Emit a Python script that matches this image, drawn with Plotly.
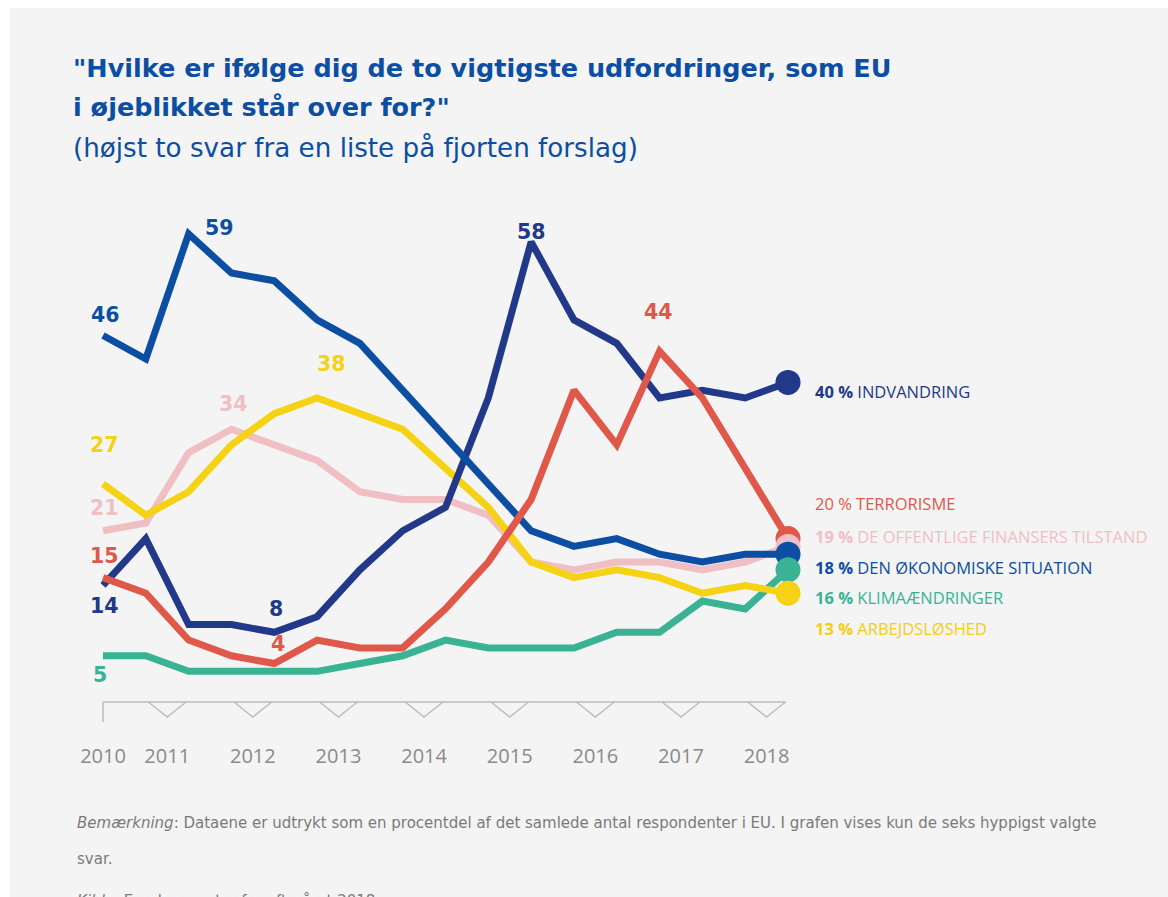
import plotly.graph_objects as go

# ---------------- data ----------------
years = ["2010", "2011", "2012", "2013", "2014", "2015", "2016", "2017", "2018"]
year_ticks = [0, 1.5, 3.5, 5.5, 7.5, 9.5, 11.5, 13.5, 15.5]
waves = list(range(17))  # survey waves (spring / autumn), 2010 -> autumn 2018

indvandring = [14, 20, 9, 9, 8, 10, 16, 21, 24, 38, 58, 48, 45, 38, 39, 38, 40]
terrorisme = [15, 13, 7, 5, 4, 7, 6, 6, 11, 17, 25, 39, 32, 44, 38, 29, 20]
offentlige = [21, 22, 31, 34, 32, 30, 26, 25, 25, 23, 17, 16, 17, 17, 16, 17, 19]
oekonomi = [46, 43, 59, 54, 53, 48, 45, 39, 33, 27, 21, 19, 20, 18, 17, 18, 18]
klima = [5, 5, 3, 3, 3, 3, 4, 5, 7, 6, 6, 6, 8, 8, 12, 11, 16]
arbejdsloeshed = [27, 23, 26, 32, 36, 38, 36, 34, 29, 24, 17, 15, 16, 15, 13, 14, 13]

end_labels = [
    ("<b>40 %</b> INDVANDRING", "#22398a", 391),
    ("20 % TERRORISME", "#e0584a", 504),
    ("<b>19 %</b> DE OFFENTLIGE FINANSERS TILSTAND", "#f0bfc4", 536),
    ("<b>18 %</b> DEN ØKONOMISKE SITUATION", "#0b4ea2", 567),
    ("<b>16 %</b> KLIMAÆNDRINGER", "#3ab394", 597),
    ("<b>13 %</b> ARBEJDSLØSHED", "#f2cf12", 628),
]

W, H = 1168, 897
FONT = "Open Sans"
WIDE = "DejaVu Sans"
NAVY = "#22398a"
BLUE = "#0b4ea2"
RED = "#e0584a"
PINK = "#f0bfc4"
YELLOW = "#f5d214"
GREEN = "#3ab394"
GRAY = "#8a8a8a"

series = {
    "offentlige": (offentlige, PINK),
    "klima": (klima, GREEN),
    "arbejdsloeshed": (arbejdsloeshed, YELLOW),
    "indvandring": (indvandring, NAVY),
    "oekonomi": (oekonomi, BLUE),
    "terrorisme": (terrorisme, RED),
}

fig = go.Figure()
for name, (vals, col) in series.items():
    fig.add_trace(go.Scatter(x=waves, y=vals, mode="lines", name=name,
                             line=dict(color=col, width=7), hoverinfo="skip"))
for name in ["terrorisme", "offentlige", "indvandring", "oekonomi", "klima", "arbejdsloeshed"]:
    vals, col = series[name]
    fig.add_trace(go.Scatter(x=[waves[-1]], y=[vals[-1]], mode="markers",
                             marker=dict(color=col, size=25), hoverinfo="skip"))

# pixel -> axis mapping
x0px, dx = 103, (788 - 103) / 16
y59px, dy = 234, 7.81
xr = [-x0px / dx, (W - x0px) / dx]
yr = [59 - (H - y59px) / dy, 59 + y59px / dy]

def PX(p):
    return p / W

def PY(p):
    return 1 - p / H

def VY(p):
    return 59 - (p - y59px) / dy

shapes = []
# background panel
shapes.append(dict(type="rect", xref="paper", yref="paper", x0=PX(10), x1=1,
                   y0=0, y1=PY(8), fillcolor="#f4f4f4", line=dict(width=0), layer="below"))
# baseline and v-marks
base = VY(702)
shapes.append(dict(type="line", xref="x", yref="y", x0=0, x1=15.95, y0=base, y1=base,
                   line=dict(color="#bdbdbd", width=1.5)))
shapes.append(dict(type="line", xref="x", yref="y", x0=0, x1=0, y0=base,
                   y1=VY(722), line=dict(color="#bdbdbd", width=1.5)))
vdepth = 15 / dy
for t in year_ticks[1:]:
    shapes.append(dict(type="path", xref="x", yref="y",
                       path=f"M {t-0.44},{base} L {t},{base - vdepth} L {t+0.44},{base}",
                       line=dict(color="#bdbdbd", width=1.5)))

ann = []
def A(text, x, y, color, size, xref="paper", yref="paper", xanchor="left",
      xshift=0, yshift=0, bold=False, family=FONT):
    ann.append(dict(text=f"<b>{text}</b>" if bold else text, x=x, y=y, xref=xref, yref=yref,
                    xanchor=xanchor, yanchor="middle", showarrow=False,
                    xshift=xshift, yshift=yshift,
                    font=dict(family=family, size=size, color=color)))

# title
A('"Hvilke er ifølge dig de to vigtigste udfordringer, som EU', PX(71), PY(68), BLUE, 25.5, bold=True, family=WIDE)
A('i øjeblikket står over for?"', PX(71), PY(107), BLUE, 25.5, bold=True, family=WIDE)
A("(højst to svar fra en liste på fjorten forslag)", PX(71), PY(148), BLUE, 26.2, family=WIDE)

# value labels
VL = 20.5
A("46", 0, 46, BLUE, VL, "x", "y", "center", 2, 21, True, WIDE)
A("59", 2, 59, BLUE, VL, "x", "y", "center", 31, 6, True, WIDE)
A("34", 3, 34, PINK, VL, "x", "y", "center", 2, 25, True, WIDE)
A("38", 5, 38, YELLOW, VL, "x", "y", "center", 14, 34, True, WIDE)
A("27", 0, 27, YELLOW, VL, "x", "y", "center", 1, 39, True, WIDE)
A("21", 0, 21, PINK, VL, "x", "y", "center", 1, 23, True, WIDE)
A("15", 0, 15, RED, VL, "x", "y", "center", 1, 22, True, WIDE)
A("14", 0, 14, NAVY, VL, "x", "y", "center", 1, -21, True, WIDE)
A("8", 4, 8, NAVY, VL, "x", "y", "center", 2, 23, True, WIDE)
A("4", 4, 4, RED, VL, "x", "y", "center", 4, 20, True, WIDE)
A("5", 0, 5, GREEN, VL, "x", "y", "center", -3, -19, True, WIDE)
A("58", 10, 58, NAVY, VL, "x", "y", "center", 0, 10, True, WIDE)
A("44", 13, 44, RED, VL, "x", "y", "center", -1, 39, True, WIDE)

# end labels
for text, col, ypx in end_labels:
    A(text, PX(813), PY(ypx), col, 16.5)

# footnote
FN = "#7a7a7a"
A("<i>Bemærkning</i>: Dataene er udtrykt som en procentdel af det samlede antal respondenter i EU. "
  "I grafen vises kun de seks hyppigst valgte", PX(75), PY(823), FN, 15, family=WIDE)
A("svar.", PX(75), PY(859), FN, 15, family=WIDE)
A("<i>Kilde</i>: Eurobarometer fra efteråret 2018", PX(75), PY(901), FN, 15, family=WIDE)

fig.update_layout(
    width=W, height=H, margin=dict(l=0, r=0, t=0, b=0),
    paper_bgcolor="white", plot_bgcolor="rgba(0,0,0,0)",
    showlegend=False, shapes=shapes, annotations=ann, hovermode=False,
    xaxis=dict(range=xr, showgrid=False, zeroline=False, showline=False, ticks="",
               tickvals=year_ticks, ticktext=years, anchor="free", position=PY(742),
               tickfont=dict(family=FONT, size=20, color=GRAY), fixedrange=True),
    yaxis=dict(range=yr, showgrid=False, zeroline=False, showline=False,
               showticklabels=False, fixedrange=True),
)
fig.write_html("out.html", config={"displayModeBar": False},
               post_script="document.body.style.margin='0';document.body.style.overflow='hidden';")
